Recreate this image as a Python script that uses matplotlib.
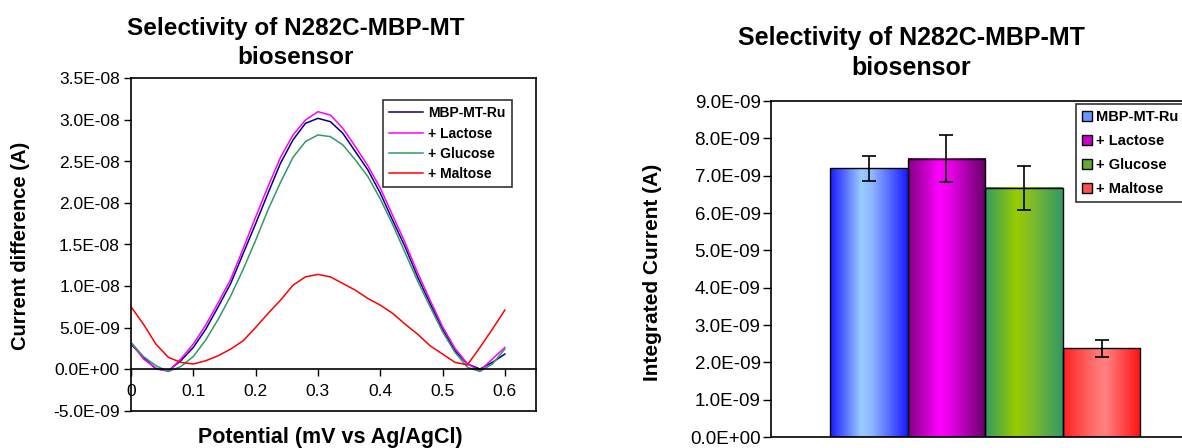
import numpy as np
import matplotlib
matplotlib.use('Agg')
import matplotlib.pyplot as plt
from matplotlib.colors import LinearSegmentedColormap
from matplotlib.patches import Patch

plt.rcParams['font.family'] = ['Liberation Sans', 'DejaVu Sans']

# left panel: differential current traces (units of 1e-9 A)
potential = [0.00, 0.02, 0.04, 0.06, 0.08, 0.10, 0.12, 0.14, 0.16, 0.18, 0.20,
             0.22, 0.24, 0.26, 0.28, 0.30, 0.32, 0.34, 0.36, 0.38, 0.40,
             0.42, 0.44, 0.46, 0.48, 0.50, 0.52, 0.54, 0.56, 0.58, 0.60]
mbp_ru = [3.0, 1.4, 0.0, -0.2, 1.0, 2.6, 4.8, 7.5, 10.3, 13.9, 17.5,
          21.2, 24.8, 27.6, 29.6, 30.2, 29.8, 28.4, 26.2, 24.0, 21.2,
          17.9, 14.7, 11.1, 7.9, 4.8, 2.2, 0.6, 0.0, 0.8, 1.8]
lactose = [3.2, 1.2, 0.1, -0.3, 1.2, 3.0, 5.3, 8.0, 10.8, 14.5, 18.3,
           22.0, 25.5, 28.2, 30.0, 31.0, 30.6, 29.0, 26.8, 24.5, 21.8,
           18.5, 15.2, 11.6, 8.3, 5.1, 2.5, 0.6, -0.2, 1.2, 2.6]
glucose = [3.2, 1.5, 0.4, -0.3, 0.3, 1.5, 3.5, 6.0, 8.8, 12.0, 15.5,
           19.2, 22.5, 25.5, 27.4, 28.2, 28.0, 27.0, 25.2, 23.2, 20.5,
           17.4, 14.0, 10.6, 7.5, 4.5, 2.0, 0.2, -0.3, 0.6, 2.4]
maltose = [7.5, 5.4, 3.0, 1.4, 0.8, 0.6, 1.0, 1.6, 2.4, 3.4, 5.0,
           6.7, 8.3, 10.1, 11.1, 11.4, 11.1, 10.3, 9.5, 8.5, 7.7,
           6.7, 5.4, 4.2, 2.8, 1.8, 0.8, 0.5, 2.6, 4.8, 7.1]
line_labels = ['MBP-MT-Ru', '+ Lactose', '+ Glucose', '+ Maltose']
line_colors = ['#000080', '#ff00ff', '#339966', '#ff0000']

# right panel: integrated current
bar_labels = ['MBP-MT-Ru', '+ Lactose', '+ Glucose', '+ Maltose']
integrated = [7.2e-9, 7.45e-9, 6.68e-9, 2.38e-9]
integrated_err = [0.34e-9, 0.63e-9, 0.59e-9, 0.23e-9]
bar_grads = [['#1a1aff', '#99ccff', '#8cb4ff', '#1a1aff'],
             ['#800080', '#ff00ff', '#e600e6', '#660066'],
             ['#339966', '#99cc00', '#88c020', '#339966'],
             ['#ff2020', '#ff7070', '#ff8080', '#ff1010']]
bar_legend_colors = ['#6699ff', '#cc00cc', '#66aa33', '#ff5050']

title = 'Selectivity of N282C-MBP-MT\nbiosensor'

W, H = 1182, 448
fig = plt.figure(figsize=(W / 100, H / 100), dpi=100)

# ---------------- left chart ----------------
ax1 = fig.add_axes([131 / W, 1 - 410.5 / H, (536 - 131) / W, 332 / H])
series = [mbp_ru, lactose, glucose, maltose]
for vals, lab, col in zip(series, line_labels, line_colors):
    ax1.plot(potential, np.array(vals) * 1e-9, color=col, lw=1.1, label=lab)

ax1.set_xlim(0, 0.65)
ax1.set_ylim(-5e-9, 3.5e-8)
yt = np.arange(-5e-9, 3.51e-8, 5e-9)
ax1.set_yticks(yt)
ax1.set_yticklabels([f'{v:.1E}' for v in yt])
xt = [0, 0.1, 0.2, 0.3, 0.4, 0.5, 0.6]
ax1.set_xticks(xt)
ax1.set_xticklabels(['0', '0.1', '0.2', '0.3', '0.4', '0.5', '0.6'])
ax1.spines['bottom'].set_position(('data', 0))
ax1.axhline(-5e-9, color='black', lw=1.2, clip_on=False)
for s in ax1.spines.values():
    s.set_linewidth(1.2)
ax1.tick_params(axis='y', length=5, width=1, pad=3, labelsize=12.5, colors='black')
ax1.tick_params(axis='x', length=5, width=1, pad=6, labelsize=12.5)
ax1.legend(loc='upper left', bbox_to_anchor=(383 / W, 1 - 100 / H),
           bbox_transform=fig.transFigure, borderaxespad=0, frameon=True,
           fancybox=False, edgecolor='black', prop={'weight': 'bold', 'size': 10},
           handlelength=2.4, handletextpad=0.4, labelspacing=0.45, borderpad=0.45)
ax1.get_legend().get_frame().set_linewidth(1.2)

fig.text(296 / W, 1 - 43 / H, title, ha='center', va='center', fontsize=17.5,
         fontweight='bold', linespacing=1.35)
fig.text(21 / W, 1 - 246 / H, 'Current difference (A)', rotation=90,
         ha='center', va='center', fontsize=14.5, fontweight='bold')
fig.text(330 / W, 1 - 437 / H, 'Potential (mV vs Ag/AgCl)', ha='center',
         va='center', fontsize=15.5, fontweight='bold')

# ---------------- right chart ----------------
ax2 = fig.add_axes([771 / W, 1 - 437 / H, 430 / W, 336 / H])
pos = np.arange(len(integrated)) - 1.5
bars = ax2.bar(pos, integrated, width=1.0, facecolor='none', edgecolor='black',
               lw=1, zorder=3)
for b, stops in zip(bars, bar_grads):
    cmap = LinearSegmentedColormap.from_list('g', list(zip([0, 0.4, 0.55, 1], stops)))
    x0, w, h = b.get_x(), b.get_width(), b.get_height()
    ax2.imshow(np.linspace(0, 1, 200).reshape(1, -1), cmap=cmap, aspect='auto',
               extent=(x0, x0 + w, 0, h), zorder=2)
ax2.errorbar(pos, integrated, yerr=integrated_err, fmt='none', ecolor='black',
             elinewidth=1.2, capsize=5, capthick=1.2, zorder=4)
ax2.set_xlim(-2.76, 2.78)
ax2.set_ylim(0, 9e-9)
yt2 = np.arange(0, 9.01e-9, 1e-9)
ax2.set_yticks(yt2)
ax2.set_yticklabels([f'{v:.1E}' for v in yt2])
ax2.set_xticks([])
for s in ax2.spines.values():
    s.set_linewidth(1.2)
ax2.tick_params(axis='y', length=6, width=1, pad=1.5, labelsize=13.5)

handles = [Patch(facecolor=c, edgecolor='black', lw=1) for c in bar_legend_colors]
leg2 = ax2.legend(handles, bar_labels, loc='upper left',
                  bbox_to_anchor=(1076 / W, 1 - 104 / H), bbox_transform=fig.transFigure,
                  borderaxespad=0, fancybox=False, edgecolor='black',
                  prop={'weight': 'bold', 'size': 10.5}, handlelength=0.7,
                  handleheight=0.7, handletextpad=0.3, labelspacing=0.7,
                  borderpad=0.4)
leg2.get_frame().set_linewidth(1.2)

fig.text(911 / W, 1 - 53 / H, title, ha='center', va='center', fontsize=18,
         fontweight='bold', linespacing=1.35)
fig.text(652 / W, 1 - 272 / H, 'Integrated Current (A)', rotation=90,
         ha='center', va='center', fontsize=15, fontweight='bold')

fig.savefig('out.png', dpi=100)
